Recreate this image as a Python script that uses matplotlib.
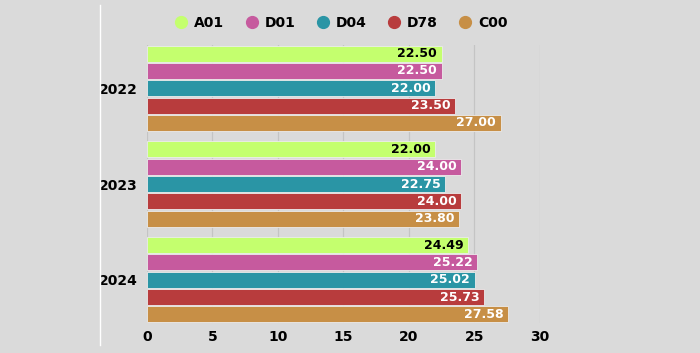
import matplotlib
matplotlib.use("Agg")
import matplotlib.pyplot as plt
import numpy as np
from matplotlib.lines import Line2D

years = ['2022', '2023', '2024']
series = ['A01', 'D01', 'D04', 'D78', 'C00']
a01 = [22.50, 22.00, 24.49]
d01 = [22.50, 24.00, 25.22]
d04 = [22.00, 22.75, 25.02]
d78 = [23.50, 24.00, 25.73]
c00 = [27.00, 23.80, 27.58]
values = [a01, d01, d04, d78, c00]
colors = ['#c4ff6e', '#c65a9e', '#2a95a5', '#b83c3d', '#c78f46']
text_colors = ['black', 'white', 'white', 'white', 'white']
xticks = [0, 5, 10, 15, 20, 25, 30]

bg = '#dadada'
plt.rcParams['font.family'] = ['DejaVu Sans']

fig = plt.figure(figsize=(7, 3.53), dpi=100, facecolor=bg)
ax = fig.add_axes([0.21, 0.085, 0.5614, 0.7875], facecolor=bg)

slot = 0.181
group = np.arange(len(years))
for i, (name, vals) in enumerate(zip(series, values)):
    pos = group - 2 * slot + i * slot
    bars = ax.barh(pos, vals, height=slot * 0.93, color=colors[i],
                   edgecolor='#ececec', linewidth=0.6, label=name, zorder=3)
    for b, v in zip(bars, vals):
        ax.text(v - 0.35, b.get_y() + b.get_height() / 2, f'{v:.2f}',
                ha='right', va='center', color=text_colors[i],
                fontsize=9, fontweight='bold', zorder=4)

ax.set_xlim(0, 30)
ax.set_ylim(2 + 2.5 * slot, -2.5 * slot)
ax.set_xticks(xticks)
ax.set_xticklabels([str(t) for t in xticks], fontsize=10, fontweight='bold')
ax.set_yticks(group)
ax.set_yticklabels(years, fontsize=10, fontweight='bold')
ax.tick_params(axis='x', length=0, pad=5)
ax.tick_params(axis='y', length=0, pad=7)
ax.xaxis.grid(True, color='#c4c4c4', linewidth=0.9, zorder=0)
for s in ax.spines.values():
    s.set_visible(False)

handles = [Line2D([], [], marker='o', linestyle='', markersize=8.5,
                  markerfacecolor=c, markeredgecolor=c) for c in colors]
leg = fig.legend(handles, series, loc='center', bbox_to_anchor=(0.486, 0.935),
                 ncol=5, frameon=False, handletextpad=0.3, columnspacing=1.4,
                 handlelength=1.2, prop={'weight': 'bold', 'size': 10})

# thin white divider on the left
fig.add_artist(Line2D([100 / 700, 100 / 700], [8 / 353, 348 / 353],
                      transform=fig.transFigure, color='white', linewidth=1))

fig.savefig('out.png', dpi=100, facecolor=bg)
